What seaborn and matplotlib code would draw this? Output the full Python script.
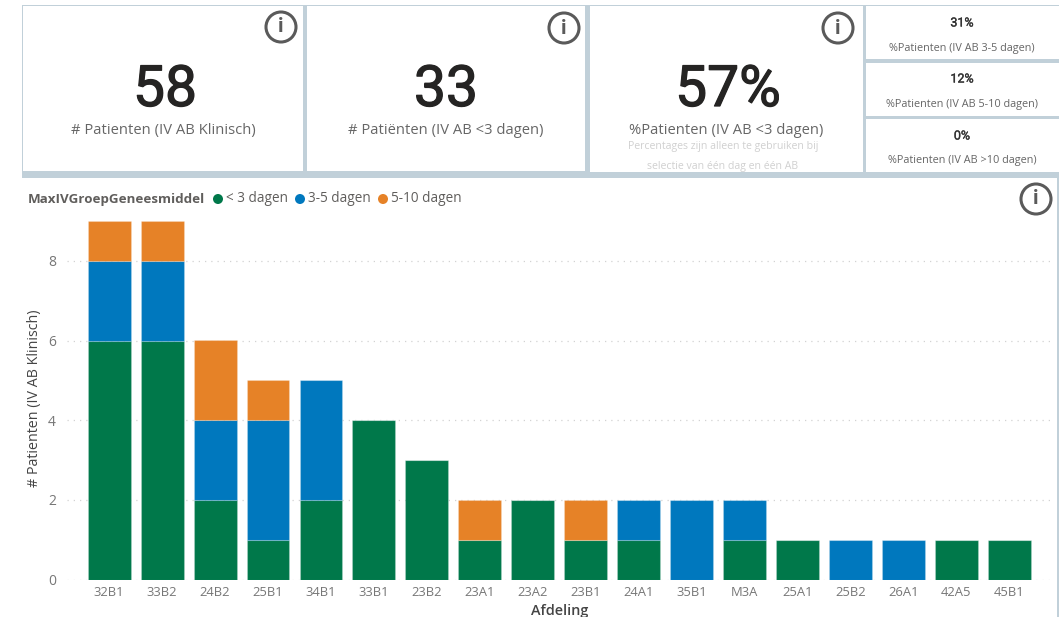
import matplotlib
matplotlib.use('Agg')
import matplotlib.pyplot as plt
import matplotlib.patheffects as pe
from matplotlib.patches import Rectangle, Circle
import pandas as pd
import seaborn as sns

afdeling = ['32B1', '33B2', '24B2', '25B1', '34B1', '33B1', '23B2', '23A1', '23A2',
            '23B1', '24A1', '35B1', 'M3A', '25A1', '25B2', '26A1', '42A5', '45B1']
lt3_dagen = [6, 6, 2, 1, 2, 4, 3, 1, 2, 1, 1, 0, 1, 1, 0, 0, 1, 1]
d3_5_dagen = [2, 2, 2, 3, 3, 0, 0, 0, 0, 0, 1, 2, 1, 0, 1, 1, 0, 0]
d5_10_dagen = [1, 1, 2, 1, 0, 0, 0, 1, 0, 1, 0, 0, 0, 0, 0, 0, 0, 0]

groep_namen = ['< 3 dagen', '3-5 dagen', '5-10 dagen']
groep_kleuren = ['#00784A', '#0078BE', '#E68227']

big_values = ['58', '33', '57%']
big_labels = ['# Patienten (IV AB Klinisch)', '# Patiënten (IV AB <3 dagen)', '%Patienten (IV AB <3 dagen)']
small_values = ['31%', '12%', '0%']
small_labels = ['%Patienten (IV AB 3-5 dagen)', '%Patienten (IV AB 5-10 dagen)', '%Patienten (IV AB >10 dagen)']

W, H = 1059, 617
BORDER = '#C1D0D9'
plt.rcParams['font.family'] = ['Open Sans', 'DejaVu Sans']

fig = plt.figure(figsize=(W / 100, H / 100), dpi=100, facecolor='white')

# overlay in pixel coordinates for the cards
bg = fig.add_axes([0, 0, 1, 1])
bg.set_xlim(0, W)
bg.set_ylim(H, 0)
bg.axis('off')


def card(x0, y0, x1, y1):
    bg.add_patch(Rectangle((x0, y0), x1 - x0, y1 - y0, facecolor='white', edgecolor='none'))


def info(x, y, r=15):
    bg.add_patch(Circle((x, y), r, facecolor='white', edgecolor='#5A5A5A', linewidth=2.2))
    bg.text(x, y, 'i', ha='center', va='center', fontsize=15, fontweight='bold',
            color='#5A5A5A', family='Roboto')


# border band behind the top cards
bg.add_patch(Rectangle((22, 5), 1037, 173, facecolor=BORDER, edgecolor='none'))
card(23, 6, 303, 171)
card(307, 6, 585, 171)
card(590, 6, 863, 172)
card(866, 6, 1059, 59)
card(866, 63, 1059, 116)
card(866, 119, 1059, 172)
bg.add_patch(Rectangle((1056.5, 178), 2.5, H - 178, facecolor=BORDER, edgecolor='none'))

for cx, lx, val, lab in zip([165, 446, 728], [163, 446, 726], big_values, big_labels):
    t = bg.text(cx, 106, val, ha='center', va='baseline', fontsize=41, family='Roboto', color='#252423')
    t.set_path_effects([pe.withStroke(linewidth=0.9, foreground='#252423')])
    bg.text(lx, 130.5, lab, ha='center', va='center', fontsize=10.6, color='#666666')

bg.text(723, 147, 'Percentages zijn alleen te gebruiken bij', ha='center', va='center', fontsize=7.55, color='#D0D0D0')
bg.text(723, 167, 'selectie van één dag en één AB', ha='center', va='center', fontsize=7.55, color='#D0D0D0')

for cy, val, lab in zip([23, 79, 136], small_values, small_labels):
    t = bg.text(962, cy, val, ha='center', va='center', fontsize=9, family='Roboto', color='#333333')
    t.set_path_effects([pe.withStroke(linewidth=0.25, foreground='#333333')])
    bg.text(962, cy + 25, lab, ha='center', va='center', fontsize=7.8, color='#666666')

info(281, 27)
info(564, 28)
info(838, 28)
info(1036, 199)

# legend row
bg.text(28, 199, 'MaxIVGroepGeneesmiddel', ha='left', va='center', fontsize=9.65, fontweight='bold', color='#605E5C')
for mx, tx, naam, kleur in zip([218, 300, 383], [226, 308, 391], groep_namen, groep_kleuren):
    bg.add_patch(Circle((mx, 199), 5, facecolor=kleur, edgecolor='none'))
    bg.text(tx, 199, naam, ha='left', va='center', fontsize=9.8, color='#605E5C')

# chart
x0, x1, y0, y1 = 67, 1052, 579.5, 221
ax = fig.add_axes([x0 / W, 1 - y0 / H, (x1 - x0) / W, (y0 - y1) / H])
ax.patch.set_alpha(0)

df = pd.DataFrame({'Afdeling': afdeling, 'lt3': lt3_dagen, 'd35': d3_5_dagen, 'd510': d5_10_dagen})
bottom = [0] * len(df)
for kol, kleur in zip(['lt3', 'd35', 'd510'], groep_kleuren):
    sns.barplot(data=df, x='Afdeling', y=kol, order=afdeling, color=kleur, saturation=1, width=0.81,
                bottom=bottom, ax=ax, errorbar=None, edgecolor=(1, 1, 1, 0.2), linewidth=0.8)
    bottom = [a + b for a, b in zip(bottom, df[kol])]

ax.set_xlim(-(109.2 - x0) / 52.94, 17 + (x1 - 1009.2) / 52.94)
ax.set_ylim(0, 9)
ax.set_yticks([0, 2, 4, 6, 8])
ax.grid(axis='y', color='#D2D2D2', linestyle=(0, (1, 4)), linewidth=0.9)
ax.set_axisbelow(True)
sns.despine(ax=ax, left=True, bottom=True)
ax.tick_params(axis='x', length=0, labelsize=9.4, labelcolor='#777777', pad=5)
ax.tick_params(axis='y', length=0, labelsize=10, labelcolor='#777777', pad=8)
ax.set_xlabel('Afdeling', fontsize=10.4, color='#444444', fontweight='semibold')
ax.xaxis.set_label_coords((560 - x0) / (x1 - x0), -(611 - y0) / (y0 - y1), transform=ax.transAxes)
ax.xaxis.label.set_verticalalignment('center')
ax.set_ylabel('# Patienten (IV AB Klinisch)', fontsize=10.3, color='#444444')
ax.yaxis.set_label_coords(-(x0 - 35) / (x1 - x0), 0.5 + (400 - (y0 + y1) / 2 - 2) / (y1 - y0) * -1 * -1)
ax.yaxis.label.set_verticalalignment('center')

fig.savefig('out.png', dpi=100)
